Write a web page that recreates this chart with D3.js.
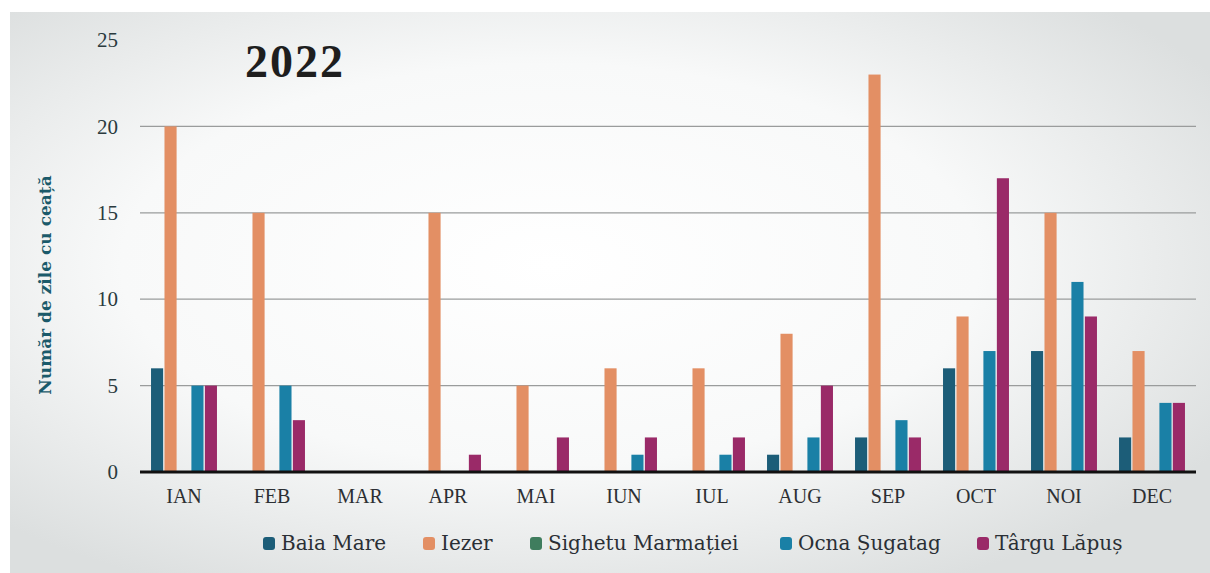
<!DOCTYPE html>
<html>
<head>
<meta charset="utf-8">
<script src="https://d3js.org/d3.v7.min.js"></script>
<style>
    body, html { margin: 0; padding: 0; background: #ffffff; }
    text { font-family: "Liberation Serif", "DejaVu Serif", serif; }
</style>
</head>
<body>
<div id="chart"></div>
<script>
// months (x axis)
var months = ["IAN", "FEB", "MAR", "APR", "MAI", "IUN", "IUL", "AUG", "SEP", "OCT", "NOI", "DEC"];
var stations = ["Baia Mare", "Iezer", "Sighetu Marmației", "Ocna Șugatag", "Târgu Lăpuș"];
var colors = ["#1c5d78", "#e38f64", "#3f7d5e", "#1a80a6", "#9a2a68"];

// number of foggy days per month, one array per station
var baiaMare  = [6, 0, 0, 0, 0, 0, 0, 1, 2, 6, 7, 2];
var iezer     = [20, 15, 0, 15, 5, 6, 6, 8, 23, 9, 15, 7];
var sighetu   = [0, 0, 0, 0, 0, 0, 0, 0, 0, 0, 0, 0];
var ocna      = [5, 5, 0, 0, 0, 1, 1, 2, 3, 7, 11, 4];
var targuLapus = [5, 3, 0, 1, 2, 2, 2, 5, 2, 17, 9, 4];
var series = [baiaMare, iezer, sighetu, ocna, targuLapus];
var yTicks = [0, 5, 10, 15, 20, 25];

var W = 1210, H = 573;
var margin = { top: 40, right: 14, bottom: 101, left: 140 };
var width = W - margin.left - margin.right;
var height = H - margin.top - margin.bottom;

var svg = d3.select("#chart").append("svg")
    .attr("width", W)
    .attr("height", H);

// scanned page background
var defs = svg.append("defs");
var grad = defs.append("radialGradient").attr("id", "paper")
    .attr("cx", "45%").attr("cy", "45%").attr("r", "65%");
grad.append("stop").attr("offset", "0%").attr("stop-color", "#ffffff");
grad.append("stop").attr("offset", "55%").attr("stop-color", "#f8f9f9");
grad.append("stop").attr("offset", "100%").attr("stop-color", "#dcdfdf");
svg.append("rect")
    .attr("x", 10).attr("y", 12)
    .attr("width", W - 10).attr("height", H - 12)
    .attr("fill", "url(#paper)");

var g = svg.append("g")
    .attr("transform", "translate(" + margin.left + "," + margin.top + ")");

var x0 = d3.scaleBand()
    .domain(months)
    .range([0, width])
    .paddingInner(0.22)
    .paddingOuter(0.11);

var x1 = d3.scaleBand()
    .domain(stations)
    .range([0, x0.bandwidth()])
    .padding(0.1);

var y = d3.scaleLinear()
    .domain([0, 25])
    .range([height, 0]);

// gridlines
g.append("g")
    .selectAll("line")
    .data(yTicks.filter(function (d) { return d > 0 && d < 25; }))
    .enter()
    .append("line")
    .attr("x1", 0)
    .attr("x2", width)
    .attr("y1", function (d) { return y(d); })
    .attr("y2", function (d) { return y(d); })
    .attr("stroke", "#9a9c9c")
    .attr("stroke-width", 1.2);

// y axis labels
var yAxis = g.append("g")
    .call(d3.axisLeft(y).tickValues(yTicks).tickSize(0).tickPadding(22));
yAxis.select(".domain").remove();
yAxis.selectAll("text")
    .style("font-family", "'Liberation Serif', serif")
    .style("font-size", "21px")
    .attr("fill", "#2a3a3e");

// bars
var groups = g.append("g")
    .selectAll("g")
    .data(months)
    .enter()
    .append("g")
    .attr("transform", function (d) { return "translate(" + x0(d) + ",0)"; });

groups.selectAll("rect")
    .data(function (m, i) {
        return stations.map(function (s, k) { return { station: s, k: k, value: series[k][i] }; });
    })
    .enter()
    .append("rect")
    .attr("x", function (d) { return x1(d.station); })
    .attr("width", x1.bandwidth())
    .attr("y", function (d) { return y(d.value); })
    .attr("height", function (d) { return height - y(d.value); })
    .attr("fill", function (d) { return colors[d.k]; });

// baseline
g.append("line")
    .attr("x1", 0).attr("x2", width)
    .attr("y1", y(0)).attr("y2", y(0))
    .attr("stroke", "#111")
    .attr("stroke-width", 3);

// x axis labels
var xAxis = g.append("g")
    .attr("transform", "translate(0," + height + ")")
    .call(d3.axisBottom(x0).tickSize(0).tickPadding(17));
xAxis.select(".domain").remove();
xAxis.selectAll("text")
    .style("font-family", "'Liberation Serif', serif")
    .style("font-size", "20px")
    .attr("fill", "#2c2f33");

// title
svg.append("text")
    .attr("x", 295)
    .attr("y", 77)
    .attr("text-anchor", "middle")
    .style("font-size", "46px")
    .style("font-weight", "bold")
    .style("letter-spacing", "2px")
    .attr("fill", "#1e1e1e")
    .text("2022");

// y axis title
svg.append("text")
    .attr("transform", "translate(51,285) rotate(-90)")
    .attr("text-anchor", "middle")
    .style("font-family", "'DejaVu Serif', serif")
    .style("font-size", "17px")
    .style("font-weight", "bold")
    .attr("fill", "#1b5a6a")
    .text("Număr de zile cu ceață");

// legend
var legendX = [263, 423, 530, 780, 977];
var legend = svg.append("g")
    .selectAll("g")
    .data(stations)
    .enter()
    .append("g")
    .attr("transform", function (d, i) { return "translate(" + legendX[i] + ",545)"; });

legend.append("rect")
    .attr("x", 0).attr("y", -8)
    .attr("width", 12).attr("height", 13)
    .attr("rx", 3)
    .attr("fill", function (d, i) { return colors[i]; });

legend.append("text")
    .attr("x", 18)
    .attr("y", 5)
    .style("font-family", "'DejaVu Serif', serif")
    .style("font-size", "20px")
    .attr("fill", "#2a2f35")
    .text(function (d) { return d; });
</script>
</body>
</html>
